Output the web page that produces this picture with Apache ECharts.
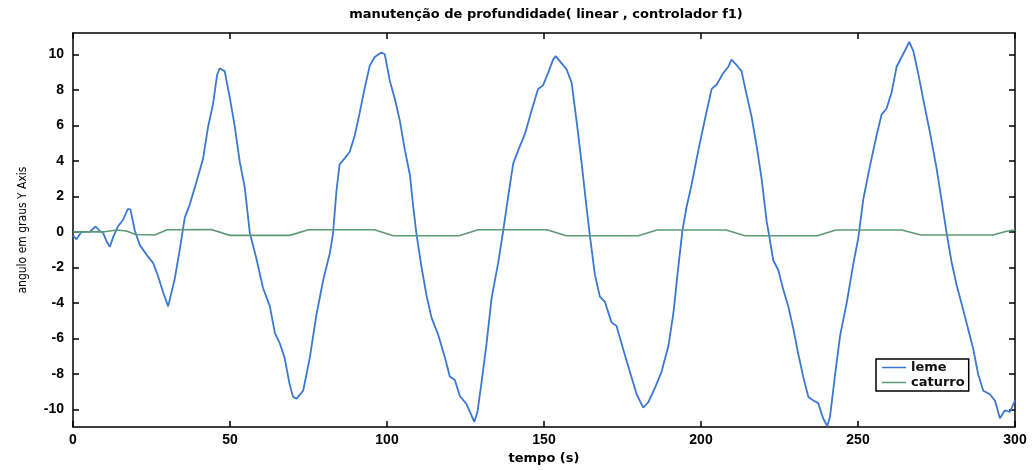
<!DOCTYPE html>
<html>
<head>
<meta charset="utf-8">
<script src="https://cdn.jsdelivr.net/npm/echarts@6/dist/echarts.min.js"></script>
<style>
  html, body { margin: 0; padding: 0; background: #fff; }
  #main { width: 1034px; height: 470px; }
</style>
</head>
<body>
<div id="main"></div>
<script>
// tempo (s) e angulo do leme
var tLeme = [0, 1.1, 2.7, 5.3, 7.2, 8.5, 9.6, 10.6, 11.7, 12.8, 14.3, 15.9, 17.5, 18.3, 19.7, 21.3, 23.9, 25.5, 27.1, 28.7,
  30.3, 30.8, 32.4, 34, 35.6, 37.2, 39.3, 41.4, 43, 44.6, 45.9, 46.7, 48.3, 49.9, 51.5, 53.1, 54.7, 56.3, 58.4, 60.5,
  62.7, 64.3, 65.9, 67.4, 69, 70.1, 71.2, 73.3, 75.4, 77.5, 79.7, 81.8, 82.8, 83.9, 84.9, 86.6, 88.1, 89.7, 91.3, 92.9,
  94.5, 96.1, 98.2, 99.3, 100.9, 102.5, 104.1, 105.7, 107.3, 108.3, 109.4, 111, 112.6, 114.2, 116.3, 118.4, 120, 121.6, 123.2, 125.3,
  126.7, 127.8, 128.8, 130.1, 131.7, 133.3, 135.4, 137, 138.6, 140.2, 141.8, 143.9, 146, 148.1, 149.7, 151.3, 152.9, 153.7, 155.1, 157.2,
  158.8, 160.4, 162, 163.5, 164.6, 166.2, 167.8, 169.4, 171.5, 173.1, 175.2, 177.3, 179.5, 181.6, 183.2, 185.3, 187.4, 189.6, 191.2, 192.7,
  194.1, 195.4, 197, 198.6, 199.7, 201.2, 203.4, 205, 207.1, 208.7, 209.7, 211.3, 212.9, 214.5, 216.1, 217.7, 219.3, 220.9, 221.6, 223,
  224.6, 226.2, 227.8, 229.4, 231, 232.6, 234.2, 235.8, 237.3, 238.9, 240.2, 241.1, 242.7, 244.3, 246.4, 248.5, 250.1, 251.7, 253.8, 256,
  257.5, 259.1, 260.7, 262.3, 263.9, 265.5, 266.3, 267.6, 269.2, 270.8, 272.9, 275, 276.6, 278.2, 279.8, 281.4, 283, 284.6, 286.7, 288.3,
  289.9, 292, 293.6, 295.2, 296.8, 298.4, 300];
var leme = [-0.2, -0.42, 0, 0, 0.3, 0.05, -0.07, -0.5, -0.85, -0.3, 0.3, 0.67, 1.3, 1.25, 0.06, -0.75, -1.4, -1.75, -2.5, -3.4,
  -4.2, -4.1, -2.65, -1.0, 0.8, 1.55, 2.8, 4.1, 5.9, 7.2, 8.85, 9.2, 9.05, 7.6, 5.95, 3.95, 2.5, -0.05, -1.5, -3.15,
  -4.2, -5.7, -6.3, -7.1, -8.6, -9.3, -9.4, -8.95, -7.1, -4.7, -2.7, -1.2, -0.1, 2.3, 3.8, 4.15, 4.5, 5.4, 6.7, 8.1,
  9.35, 9.85, 10.1, 10.0, 8.5, 7.5, 6.25, 4.6, 3.2, 1.5, -0.15, -2.0, -3.6, -4.85, -5.8, -7.05, -8.15, -8.35, -9.25, -9.7,
  -10.25, -10.7, -10.15, -8.5, -6.3, -3.75, -1.75, 0.05, 2.0, 3.85, 4.6, 5.5, 6.8, 8.05, 8.25, 8.95, 9.7, 9.9, 9.6, 9.15,
  8.4, 6.2, 3.85, 1.45, -0.2, -2.4, -3.65, -3.95, -5.1, -5.3, -6.6, -7.85, -9.15, -9.9, -9.6, -8.8, -7.9, -6.45, -4.6, -2.1,
  0.1, 1.4, 2.65, 4.1, 5.05, 6.3, 8.05, 8.3, 8.95, 9.3, 9.7, 9.4, 9.05, 7.75, 6.5, 4.85, 3.0, 0.6, -0.1, -1.6,
  -2.15, -3.25, -4.2, -5.45, -6.9, -8.2, -9.3, -9.5, -9.65, -10.5, -10.95, -10.4, -8.05, -5.85, -4.0, -1.8, -0.35, 1.85, 3.7, 5.5,
  6.6, 6.95, 7.85, 9.3, 9.85, 10.4, 10.7, 10.2, 8.9, 7.45, 5.6, 3.6, 1.8, -0.05, -1.7, -3.0, -4.05, -5.15, -6.6, -8.05,
  -8.95, -9.15, -9.5, -10.5, -10.05, -10.15, -9.5];

// tempo (s) e angulo de caturro
var tCaturro = [0, 10, 14, 17, 20, 26, 30, 44, 50, 69, 75, 96, 102, 123, 129, 151, 157, 180, 186, 208, 214, 237, 243, 264, 270, 293, 297, 300];
var caturro = [0, 0, 0.1, 0.05, -0.15, -0.18, 0.12, 0.13, -0.2, -0.2, 0.12, 0.12, -0.22, -0.22, 0.12, 0.12, -0.22, -0.22, 0.1, 0.1,
  -0.22, -0.22, 0.1, 0.1, -0.18, -0.18, 0.02, 0.12];

var yTicks = [-10, -8, -6, -4, -2, 0, 2, 4, 6, 8, 10];

function pares(t, v) {
  var out = [];
  for (var i = 0; i < t.length; i++) out.push([t[i], v[i]]);
  return out;
}

var eixo = { show: true, onZero: false, lineStyle: { color: '#000', width: 1.5 } };
var marca = { show: true, inside: true, length: 6, lineStyle: { color: '#000', width: 1.5 } };
var rotulo = { color: '#000', fontSize: 14, fontWeight: 'bold', fontFamily: 'Liberation Sans' };

var myChart = echarts.init(document.getElementById('main'));
myChart.setOption({
  backgroundColor: '#fff',
  animation: false,
  title: {
    text: 'manutenção de profundidade( linear , controlador f1)',
    left: 541,
    textAlign: 'center',
    top: 3,
    textStyle: { fontSize: 13, fontWeight: 'bold', color: '#000', fontFamily: 'DejaVu Sans' }
  },
  grid: { left: 73, top: 33, right: 19, bottom: 32 },
  legend: {
    orient: 'vertical',
    left: 876,
    top: 359,
    backgroundColor: '#fff',
    borderColor: '#000',
    borderWidth: 1.5,
    borderRadius: 0,
    padding: [2, 4, 2, 6],
    icon: 'rect',
    itemWidth: 24,
    itemHeight: 1.5,
    itemGap: 2,
    textStyle: { fontSize: 13, fontWeight: 'bold', color: '#111', fontFamily: 'DejaVu Sans' },
    data: ['leme', 'caturro']
  },
  xAxis: [{
    type: 'value', min: 0, max: 300, interval: 50, position: 'bottom',
    name: 'tempo (s)', nameLocation: 'middle', nameGap: 17,
    nameTextStyle: { fontSize: 13, fontWeight: 'bold', color: '#000', fontFamily: 'DejaVu Sans' },
    axisLine: eixo, axisTick: marca, axisLabel: Object.assign({ margin: 6 }, rotulo),
    splitLine: { show: false }
  }, {
    type: 'value', min: 0, max: 300, interval: 50, position: 'top',
    axisLine: eixo, axisTick: marca, axisLabel: { show: false }, splitLine: { show: false }
  }],
  yAxis: [{
    type: 'value', min: -11, max: 11.2, position: 'left',
    name: 'angulo em graus Y Axis', nameLocation: 'middle', nameRotate: 90, nameGap: 44,
    nameTextStyle: { fontSize: 12, color: '#000', fontFamily: "'DejaVu Sans Condensed', 'Liberation Sans', sans-serif" },
    axisLine: eixo,
    axisTick: Object.assign({ customValues: yTicks }, marca),
    axisLabel: Object.assign({ customValues: yTicks, margin: 9 }, rotulo),
    splitLine: { show: false }
  }, {
    type: 'value', min: -11, max: 11.2, position: 'right',
    axisLine: eixo,
    axisTick: Object.assign({ customValues: yTicks }, marca),
    axisLabel: { show: false }, splitLine: { show: false }
  }],
  series: [{
    name: 'leme',
    type: 'line',
    showSymbol: false,
    symbol: 'none',
    color: '#3a78d2',
    lineStyle: { color: '#3a78d2', width: 1.8 },
    data: pares(tLeme, leme)
  }, {
    name: 'caturro',
    type: 'line',
    showSymbol: false,
    symbol: 'none',
    color: '#5c9a74',
    lineStyle: { color: '#5c9a74', width: 1.6 },
    data: pares(tCaturro, caturro)
  }]
});
</script>
</body>
</html>
